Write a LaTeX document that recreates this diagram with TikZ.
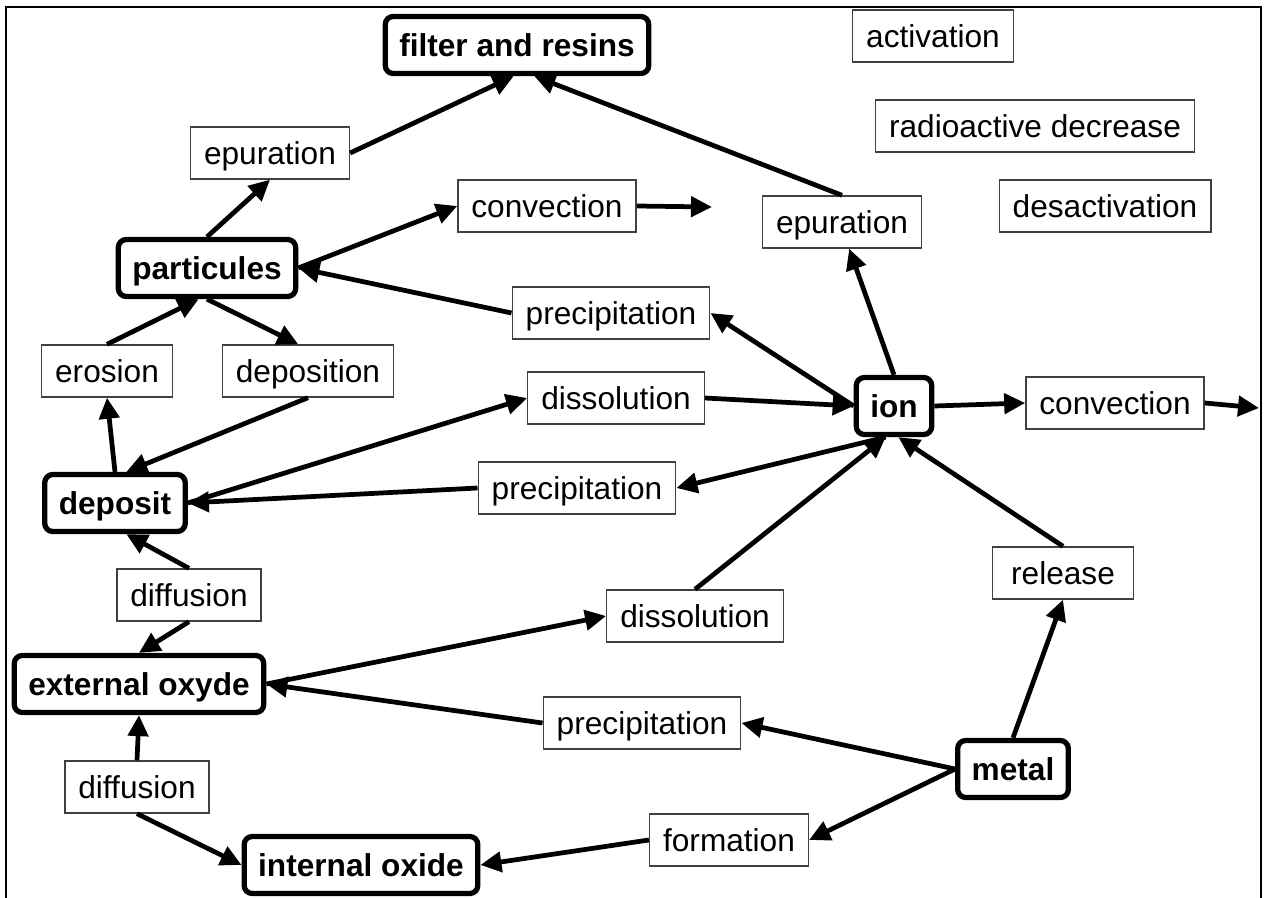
\documentclass[tikz,border=0pt]{standalone}
\usepackage{fontspec}
\setmainfont{Liberation Sans}
\usepackage{tikz}
\usetikzlibrary{arrows.meta}
\newcommand{\procfont}{\fontsize{18}{21}\selectfont}
\tikzset{
  % bold rounded box for a phase
  phase/.style={draw, line width=3pt, rounded corners=0.16cm,
    font=\procfont\bfseries, inner xsep=0.28cm, minimum height=1.14cm,
    text height=0.53cm, text depth=0.07cm},
  % thin box for a process
  proc/.style={draw=black!75, line width=0.8pt, font=\procfont,
    inner xsep=0.27cm, minimum height=1.04cm,
    text height=0.53cm, text depth=0.07cm},
  % thick arrow between boxes
  flow/.style={line width=2.7pt, -{Triangle[length=0.42cm,width=0.4cm]}}
}

\begin{document}
\begin{tikzpicture}[x=0.02cm, y=-0.02cm]

  % page size and open frame
  \useasboundingbox (0,0) rectangle (1267,898);
  \draw[line width=1.1pt] (6,898) -- (6,7) -- (1261,7) -- (1261,898);

  % add phase boxes
  \node[phase] (filter) at (517,45) {filter and resins};
  \node[phase] (part) at (207,268) {particules};
  \node[phase] (deposit) at (115,503) {deposit};
  \node[phase] (ion) at (894,406) {ion};
  \node[phase] (extox) at (139,684) {external oxyde};
  \node[phase] (metal) at (1013,769) {metal};
  \node[phase] (intox) at (361,865) {internal oxide};

  % add process boxes
  \node[proc] (activ) at (933,36) {activation};
  \node[proc] (radio) at (1035,126) {radioactive decrease};
  \node[proc] (desact) at (1105,206) {desactivation};
  \node[proc] (epurP) at (270,153) {epuration};
  \node[proc] (epurI) at (842,222) {epuration};
  \node[proc] (convP) at (547,206) {convection};
  \node[proc] (precP) at (611,313) {precipitation};
  \node[proc] (eros) at (107,371) {erosion};
  \node[proc] (depo) at (308,371) {deposition};
  \node[proc] (dissD) at (616,398) {dissolution};
  \node[proc] (convI) at (1115,403) {convection};
  \node[proc] (precD) at (577,488) {precipitation};
  \node[proc] (diffD) at (189,595) {diffusion};
  \node[proc] (dissO) at (695,616) {dissolution};
  \node[proc, minimum width=2.82cm] (release) at (1063,573) {release};
  \node[proc] (precO) at (642,723) {precipitation};
  \node[proc] (diffI) at (137,787) {diffusion};
  \node[proc] (formation) at (729,840) {formation};

  % free ends of the convection arrows
  \coordinate (outP) at (712,207);
  \coordinate (outI) at (1259,408);

  % arrows around filter and particules
  \draw[flow] (epurP.east) -- (filter.-96);
  \draw[flow] (epurI.north) -- (filter.-61);
  \draw[flow] (part.north) -- (epurP.south);
  \draw[flow] (part.east) -- (convP.west);
  \draw[flow] (convP.east) -- (outP);
  \draw[flow] (precP.west) -- (part.east);
  \draw[flow] (eros.north) -- (part.-105);
  \draw[flow] (part.south) -- (depo.110);

  % arrows around deposit
  \draw[flow] (deposit.north) -- (eros.south);
  \draw[flow] (depo.south) -- (deposit.70);
  \draw[flow] (deposit.east) -- (dissD.west);
  \draw[flow] (precD.west) -- (deposit.east);
  \draw[flow] (diffD.north) -- (deposit.-70);

  % arrows around ion
  \draw[flow] (dissD.east) -- (ion.west);
  \draw[flow] (ion.west) -- (precP.east);
  \draw[flow] (ion.north) -- (epurI.-75);
  \draw[flow] (ion.east) -- (convI.west);
  \draw[flow] (convI.east) -- (outI);
  \draw[flow] (ion.-105) -- (precD.east);
  \draw[flow] (dissO.north) -- (ion.-105);
  \draw[flow] (release.north) -- (ion.-82);

  % arrows around metal and oxides
  \draw[flow] (metal.north) -- (release.south);
  \draw[flow] (metal.west) -- (precO.east);
  \draw[flow] (metal.west) -- (formation.east);
  \draw[flow] (formation.west) -- (intox.east);
  \draw[flow] (extox.east) -- (dissO.west);
  \draw[flow] (precO.west) -- (extox.east);
  \draw[flow] (diffD.south) -- (extox.north);
  \draw[flow] (diffI.north) -- (extox.south);
  \draw[flow] (diffI.south) -- (intox.west);

\end{tikzpicture}
\end{document}
